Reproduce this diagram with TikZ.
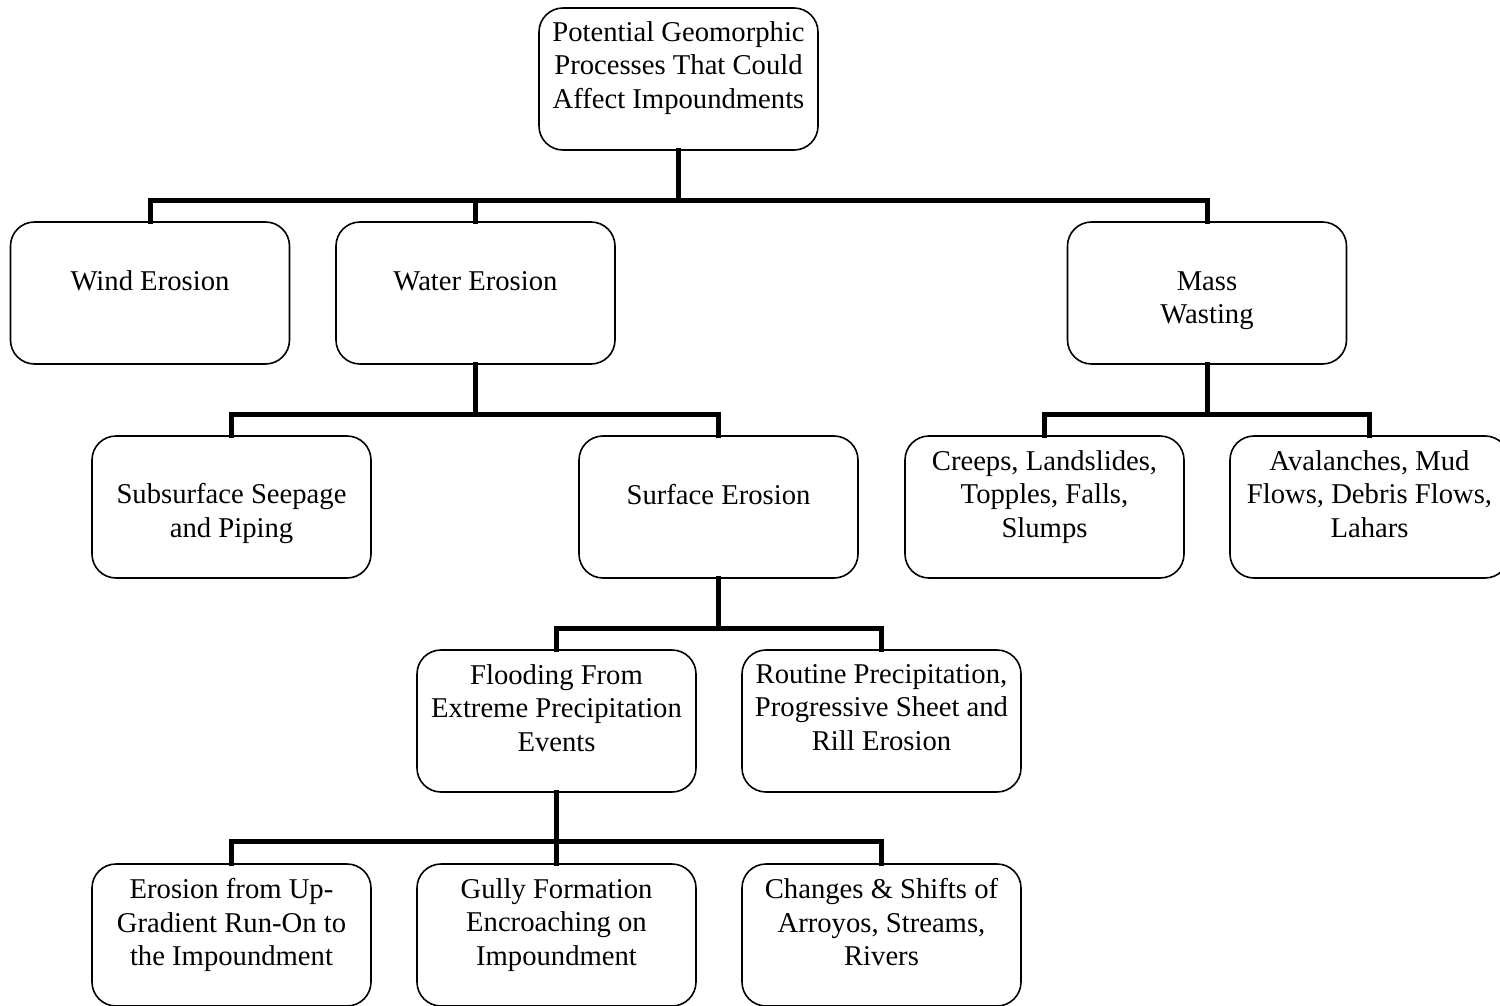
\documentclass[tikz,border=0pt]{standalone}
\usepackage{fontspec}
\setmainfont{Liberation Serif}
\begin{document}
\begin{tikzpicture}[x=0.5pt,y=-0.5pt,
  box/.style={draw=black, line width=0.8pt, rounded corners=12pt, fill=white,
    minimum width=139.5pt, minimum height=71pt, inner sep=0pt},
  txt/.style={align=center, anchor=north, inner sep=0pt,
    font=\fontsize{14.33pt}{16.8pt}\selectfont,
    execute at begin node={\rule{0pt}{12pt}}},
  conn/.style={line width=2.5pt, line join=miter, line cap=rect}]
\useasboundingbox[fill=white] (0,0) rectangle (1500,1006);
\clip (0,0) rectangle (1500,1006);

% junctions
\coordinate (j1) at (678.5,200);
\coordinate (j2) at (475.5,414);
\coordinate (j3) at (1207,414);
\coordinate (j4) at (718.5,628);
\coordinate (j5) at (556.5,841);

% boxes
\node[box] (top) at (678.5,79) {};
\node[box] (wind) at (150,293) {};
\node[box] (water) at (475.5,293) {};
\node[box] (mass) at (1207,293) {};
\node[box] (sub) at (231.5,507) {};
\node[box] (surf) at (718.5,507) {};
\node[box] (creep) at (1044.5,507) {};
\node[box] (aval) at (1369.5,507) {};
\node[box] (flood) at (556.5,721) {};
\node[box] (rout) at (881.5,721) {};
\node[box] (upgr) at (231.5,935) {};
\node[box] (gully) at (556.5,935) {};
\node[box] (chng) at (881.5,935) {};

% connectors
\draw[conn] (top.south) -- (j1);
\draw[conn] (wind.north) |- (j1) -| (mass.north);
\draw[conn] (water.north) -- (water.north |- j1);

\draw[conn] (water.south) -- (j2);
\draw[conn] (sub.north) |- (j2) -| (surf.north);

\draw[conn] (mass.south) -- (j3);
\draw[conn] (creep.north) |- (j3) -| (aval.north);

\draw[conn] (surf.south) -- (j4);
\draw[conn] (flood.north) |- (j4) -| (rout.north);

\draw[conn] (flood.south) -- (gully.north);
\draw[conn] (upgr.north) |- (j5) -| (chng.north);

% texts
\node[txt] (top-t) at (678.5,21) {Potential Geomorphic\\Processes That Could\\Affect Impoundments};
\node[txt] (wind-t) at (150,266) {Wind Erosion};
\node[txt] (water-t) at (475.5,266) {Water Erosion};
\node[txt] (mass-t) at (1207,271) {Mass\\Wasting};
\node[txt] (sub-t) at (231.5,483) {Subsurface Seepage\\and Piping};
\node[txt] (surf-t) at (718.5,480) {Surface Erosion};
\node[txt] (creep-t) at (1044.5,450) {Creeps, Landslides,\\Topples, Falls,\\Slumps};
\node[txt] (aval-t) at (1369.5,450) {Avalanches, Mud\\Flows, Debris Flows,\\Lahars};
\node[txt] (flood-t) at (556.5,664) {Flooding From\\Extreme Precipitation\\Events};
\node[txt] (rout-t) at (881.5,664) {Routine Precipitation,\\Progressive Sheet and\\Rill Erosion};
\node[txt] (upgr-t) at (231.5,878) {Erosion from Up-\\Gradient Run-On to\\the Impoundment};
\node[txt] (gully-t) at (556.5,878) {Gully Formation\\Encroaching on\\Impoundment};
\node[txt] (chng-t) at (881.5,878) {Changes \& Shifts of\\Arroyos, Streams,\\Rivers};
\end{tikzpicture}
\end{document}
